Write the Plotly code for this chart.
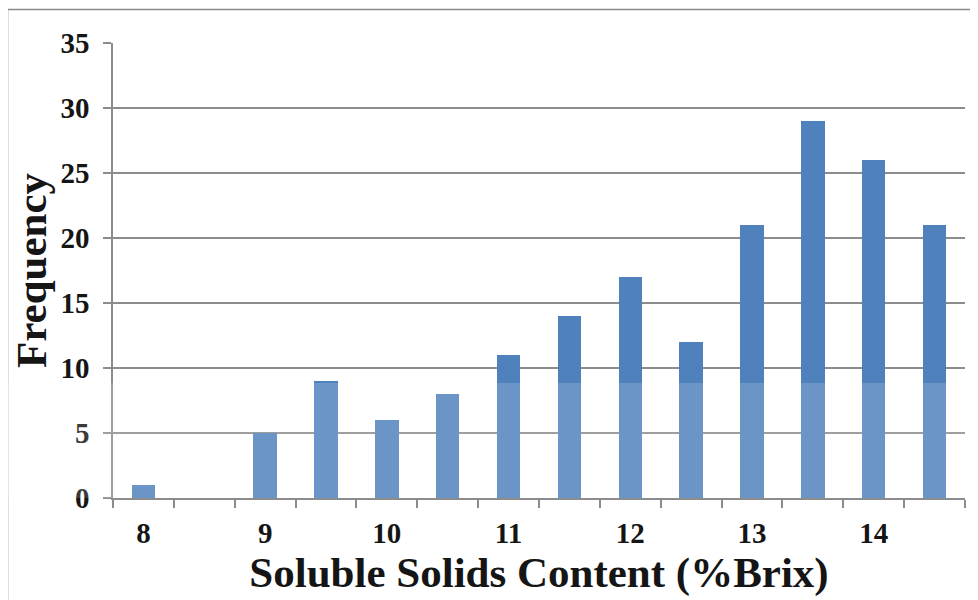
import plotly.graph_objects as go

brix = [8, 8.5, 9, 9.5, 10, 10.5, 11, 11.5, 12, 12.5, 13, 13.5, 14, 14.5]
frequency = [1, 0, 5, 9, 6, 8, 11, 14, 17, 12, 21, 29, 26, 21]
x_tick_vals = [8, 9, 10, 11, 12, 13, 14]
x_tick_text = ["8", "9", "10", "11", "12", "13", "14"]
y_tick_vals = [0, 5, 10, 15, 20, 25, 30, 35]

FONT = "Liberation Serif, Times New Roman, serif"
TXT = "#151515"
GRID = "#8c8c8c"

fig = go.Figure()
fig.add_trace(go.Bar(
    x=brix, y=frequency, width=0.193,
    marker=dict(color="#4F81BD", line=dict(width=0)),
    showlegend=False,
))

fig.update_layout(
    width=970, height=592,
    margin=dict(l=105, r=13, t=35, b=102),
    paper_bgcolor="white", plot_bgcolor="white",
    bargap=0,
    font=dict(family=FONT, color=TXT),
    xaxis=dict(
        range=[7.75, 14.75],
        tickmode="array",
        tickvals=x_tick_vals, ticktext=x_tick_text,
        ticks="", showgrid=False, zeroline=False,
        showline=True, linecolor=GRID, linewidth=1.5,
        tickfont=dict(family=FONT, size=29, color=TXT, weight="bold"),
        ticklabelstandoff=8,
        minor=dict(tick0=7.75, dtick=0.5, ticks="outside", ticklen=8,
                   tickcolor=GRID, tickwidth=1.5, showgrid=False),
        title=dict(text="Soluble Solids Content (%Brix)",
                   font=dict(family=FONT, size=43, color=TXT, weight="bold"),
                   standoff=0),
        automargin=False,
    ),
    yaxis=dict(
        range=[0, 35],
        tickmode="array",
        tickvals=y_tick_vals,
        ticks="outside", ticklen=8, tickcolor=GRID, tickwidth=1.5,
        showgrid=True, gridcolor=GRID, gridwidth=1.5,
        zeroline=False,
        showline=True, linecolor=GRID, linewidth=1.5,
        tickfont=dict(family=FONT, size=29, color=TXT, weight="bold"),
        ticklabelstandoff=8,
        title=dict(text="Frequency",
                   font=dict(family=FONT, size=43, color=TXT, weight="bold"),
                   standoff=0),
        automargin=False,
    ),
    shapes=[
        dict(type="rect", xref="paper", yref="paper",
             x0=-0.1238, y0=-0.5, x1=1.2, y1=1.0736,
             line=dict(color="#8a8a8a", width=1.5), fillcolor="rgba(0,0,0,0)",
             layer="below"),
        dict(type="rect", xref="paper", yref="y",
             x0=-0.2, x1=1.2, y0=-10, y1=8.85,
             fillcolor="white", opacity=0.16, line=dict(width=0), layer="above"),
    ],
)

fig.write_html("out.html")
